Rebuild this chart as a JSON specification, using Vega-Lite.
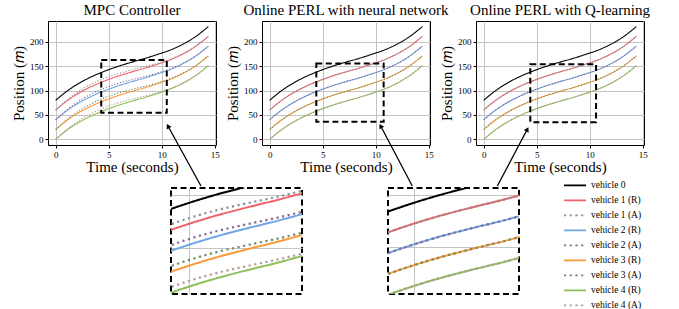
{
"$schema":"https://vega.github.io/schema/vega-lite/v6.json",
"padding":{"left":11,"top":2,"right":0,"bottom":0},
"config":{
 "font":"Liberation Serif",
 "view":{"stroke":"black","strokeWidth":1},
 "axis":{"labelFont":"Liberation Serif","labelFontSize":9,"labelColor":"black","titleFont":"Liberation Serif","titleFontSize":15,"titleFontWeight":"normal","titleColor":"black","tickColor":"black","tickSize":3,"domain":false,"gridColor":"#c4c4c4","gridWidth":1,"labelPadding":2,"titlePadding":3},
 "title":{"font":"Liberation Serif","fontSize":15,"fontWeight":"normal","offset":3,"color":"black"},
 "legend":{"title":null,"symbolType":"stroke","symbolSize":484,"symbolStrokeWidth":1.6,"labelFont":"Liberation Serif","labelFontSize":9.5,"labelColor":"black","clipHeight":12.8,"rowPadding":2,"padding":0,"labelOffset":4}
},
"datasets":{
 "base":[
{"s":"vehicle 0","t":0,"y":80},{"s":"vehicle 0","t":1.2,"y":101},{"s":"vehicle 0","t":2.4,"y":117.4},{"s":"vehicle 0","t":3.6,"y":130.5},{"s":"vehicle 0","t":4.8,"y":141.2},{"s":"vehicle 0","t":6,"y":150.4},{"s":"vehicle 0","t":7.2,"y":158.3},{"s":"vehicle 0","t":8.4,"y":165.7},{"s":"vehicle 0","t":9.6,"y":174},{"s":"vehicle 0","t":10.8,"y":183},{"s":"vehicle 0","t":12,"y":195},{"s":"vehicle 0","t":13.2,"y":210.6},{"s":"vehicle 0","t":14.4,"y":231.1},
{"s":"vehicle 1 (R)","t":0,"y":60},{"s":"vehicle 1 (R)","t":1.2,"y":81},{"s":"vehicle 1 (R)","t":2.4,"y":97.4},{"s":"vehicle 1 (R)","t":3.6,"y":110.5},{"s":"vehicle 1 (R)","t":4.8,"y":121.2},{"s":"vehicle 1 (R)","t":6,"y":130.4},{"s":"vehicle 1 (R)","t":7.2,"y":138.3},{"s":"vehicle 1 (R)","t":8.4,"y":145.7},{"s":"vehicle 1 (R)","t":9.6,"y":154},{"s":"vehicle 1 (R)","t":10.8,"y":163},{"s":"vehicle 1 (R)","t":12,"y":175},{"s":"vehicle 1 (R)","t":13.2,"y":190.6},{"s":"vehicle 1 (R)","t":14.4,"y":211.1},
{"s":"vehicle 2 (R)","t":0,"y":40},{"s":"vehicle 2 (R)","t":1.2,"y":61},{"s":"vehicle 2 (R)","t":2.4,"y":77.4},{"s":"vehicle 2 (R)","t":3.6,"y":90.5},{"s":"vehicle 2 (R)","t":4.8,"y":101.2},{"s":"vehicle 2 (R)","t":6,"y":110.4},{"s":"vehicle 2 (R)","t":7.2,"y":118.3},{"s":"vehicle 2 (R)","t":8.4,"y":125.7},{"s":"vehicle 2 (R)","t":9.6,"y":134},{"s":"vehicle 2 (R)","t":10.8,"y":143},{"s":"vehicle 2 (R)","t":12,"y":155},{"s":"vehicle 2 (R)","t":13.2,"y":170.6},{"s":"vehicle 2 (R)","t":14.4,"y":191.1},
{"s":"vehicle 3 (R)","t":0,"y":20},{"s":"vehicle 3 (R)","t":1.2,"y":41},{"s":"vehicle 3 (R)","t":2.4,"y":57.4},{"s":"vehicle 3 (R)","t":3.6,"y":70.5},{"s":"vehicle 3 (R)","t":4.8,"y":81.2},{"s":"vehicle 3 (R)","t":6,"y":90.4},{"s":"vehicle 3 (R)","t":7.2,"y":98.3},{"s":"vehicle 3 (R)","t":8.4,"y":105.7},{"s":"vehicle 3 (R)","t":9.6,"y":114},{"s":"vehicle 3 (R)","t":10.8,"y":123},{"s":"vehicle 3 (R)","t":12,"y":135},{"s":"vehicle 3 (R)","t":13.2,"y":150.6},{"s":"vehicle 3 (R)","t":14.4,"y":171.1},
{"s":"vehicle 4 (R)","t":0,"y":0},{"s":"vehicle 4 (R)","t":1.2,"y":21},{"s":"vehicle 4 (R)","t":2.4,"y":37.4},{"s":"vehicle 4 (R)","t":3.6,"y":50.5},{"s":"vehicle 4 (R)","t":4.8,"y":61.2},{"s":"vehicle 4 (R)","t":6,"y":70.4},{"s":"vehicle 4 (R)","t":7.2,"y":78.3},{"s":"vehicle 4 (R)","t":8.4,"y":85.7},{"s":"vehicle 4 (R)","t":9.6,"y":94},{"s":"vehicle 4 (R)","t":10.8,"y":103},{"s":"vehicle 4 (R)","t":12,"y":115},{"s":"vehicle 4 (R)","t":13.2,"y":130.6},{"s":"vehicle 4 (R)","t":14.4,"y":151.1}
 ],
 "mpcA":[
{"s":"vehicle 1 (A)","t":0,"y":60},{"s":"vehicle 1 (A)","t":1.2,"y":83},{"s":"vehicle 1 (A)","t":2.4,"y":101.4},{"s":"vehicle 1 (A)","t":3.6,"y":115.5},{"s":"vehicle 1 (A)","t":4.8,"y":126.7},{"s":"vehicle 1 (A)","t":6,"y":135.4},{"s":"vehicle 1 (A)","t":7.2,"y":142.3},{"s":"vehicle 1 (A)","t":8.4,"y":148.7},{"s":"vehicle 1 (A)","t":9.6,"y":156},{"s":"vehicle 1 (A)","t":10.8,"y":164.5},{"s":"vehicle 1 (A)","t":12,"y":176},{"s":"vehicle 1 (A)","t":13.2,"y":191.1},{"s":"vehicle 1 (A)","t":14.4,"y":211.1},
{"s":"vehicle 2 (A)","t":0,"y":40},{"s":"vehicle 2 (A)","t":1.2,"y":63},{"s":"vehicle 2 (A)","t":2.4,"y":81.4},{"s":"vehicle 2 (A)","t":3.6,"y":95.5},{"s":"vehicle 2 (A)","t":4.8,"y":106.7},{"s":"vehicle 2 (A)","t":6,"y":115.4},{"s":"vehicle 2 (A)","t":7.2,"y":122.3},{"s":"vehicle 2 (A)","t":8.4,"y":128.7},{"s":"vehicle 2 (A)","t":9.6,"y":136},{"s":"vehicle 2 (A)","t":10.8,"y":144.5},{"s":"vehicle 2 (A)","t":12,"y":156},{"s":"vehicle 2 (A)","t":13.2,"y":171.1},{"s":"vehicle 2 (A)","t":14.4,"y":191.1},
{"s":"vehicle 3 (A)","t":0,"y":20},{"s":"vehicle 3 (A)","t":1.2,"y":43},{"s":"vehicle 3 (A)","t":2.4,"y":61.4},{"s":"vehicle 3 (A)","t":3.6,"y":75.5},{"s":"vehicle 3 (A)","t":4.8,"y":86.7},{"s":"vehicle 3 (A)","t":6,"y":95.4},{"s":"vehicle 3 (A)","t":7.2,"y":102.3},{"s":"vehicle 3 (A)","t":8.4,"y":108.7},{"s":"vehicle 3 (A)","t":9.6,"y":116},{"s":"vehicle 3 (A)","t":10.8,"y":124.5},{"s":"vehicle 3 (A)","t":12,"y":136},{"s":"vehicle 3 (A)","t":13.2,"y":151.1},{"s":"vehicle 3 (A)","t":14.4,"y":171.1},
{"s":"vehicle 4 (A)","t":0,"y":0},{"s":"vehicle 4 (A)","t":1.2,"y":23},{"s":"vehicle 4 (A)","t":2.4,"y":41.4},{"s":"vehicle 4 (A)","t":3.6,"y":55.5},{"s":"vehicle 4 (A)","t":4.8,"y":66.7},{"s":"vehicle 4 (A)","t":6,"y":75.4},{"s":"vehicle 4 (A)","t":7.2,"y":82.3},{"s":"vehicle 4 (A)","t":8.4,"y":88.7},{"s":"vehicle 4 (A)","t":9.6,"y":96},{"s":"vehicle 4 (A)","t":10.8,"y":104.5},{"s":"vehicle 4 (A)","t":12,"y":116},{"s":"vehicle 4 (A)","t":13.2,"y":131.1},{"s":"vehicle 4 (A)","t":14.4,"y":151.1}
 ],
 "perlA":[
{"s":"vehicle 1 (A)","t":0,"y":60},{"s":"vehicle 1 (A)","t":1.2,"y":81},{"s":"vehicle 1 (A)","t":2.4,"y":97.4},{"s":"vehicle 1 (A)","t":3.6,"y":110.5},{"s":"vehicle 1 (A)","t":4.8,"y":121.2},{"s":"vehicle 1 (A)","t":6,"y":130.4},{"s":"vehicle 1 (A)","t":7.2,"y":138.3},{"s":"vehicle 1 (A)","t":8.4,"y":145.7},{"s":"vehicle 1 (A)","t":9.6,"y":154},{"s":"vehicle 1 (A)","t":10.8,"y":163},{"s":"vehicle 1 (A)","t":12,"y":175},{"s":"vehicle 1 (A)","t":13.2,"y":190.6},{"s":"vehicle 1 (A)","t":14.4,"y":211.1},
{"s":"vehicle 2 (A)","t":0,"y":40},{"s":"vehicle 2 (A)","t":1.2,"y":61},{"s":"vehicle 2 (A)","t":2.4,"y":77.4},{"s":"vehicle 2 (A)","t":3.6,"y":90.5},{"s":"vehicle 2 (A)","t":4.8,"y":101.2},{"s":"vehicle 2 (A)","t":6,"y":110.4},{"s":"vehicle 2 (A)","t":7.2,"y":118.3},{"s":"vehicle 2 (A)","t":8.4,"y":125.7},{"s":"vehicle 2 (A)","t":9.6,"y":134},{"s":"vehicle 2 (A)","t":10.8,"y":143},{"s":"vehicle 2 (A)","t":12,"y":155},{"s":"vehicle 2 (A)","t":13.2,"y":170.6},{"s":"vehicle 2 (A)","t":14.4,"y":191.1},
{"s":"vehicle 3 (A)","t":0,"y":20},{"s":"vehicle 3 (A)","t":1.2,"y":41},{"s":"vehicle 3 (A)","t":2.4,"y":57.4},{"s":"vehicle 3 (A)","t":3.6,"y":70.5},{"s":"vehicle 3 (A)","t":4.8,"y":81.2},{"s":"vehicle 3 (A)","t":6,"y":90.4},{"s":"vehicle 3 (A)","t":7.2,"y":98.3},{"s":"vehicle 3 (A)","t":8.4,"y":105.7},{"s":"vehicle 3 (A)","t":9.6,"y":114},{"s":"vehicle 3 (A)","t":10.8,"y":123},{"s":"vehicle 3 (A)","t":12,"y":135},{"s":"vehicle 3 (A)","t":13.2,"y":150.6},{"s":"vehicle 3 (A)","t":14.4,"y":171.1},
{"s":"vehicle 4 (A)","t":0,"y":0},{"s":"vehicle 4 (A)","t":1.2,"y":21},{"s":"vehicle 4 (A)","t":2.4,"y":37.4},{"s":"vehicle 4 (A)","t":3.6,"y":50.5},{"s":"vehicle 4 (A)","t":4.8,"y":61.2},{"s":"vehicle 4 (A)","t":6,"y":70.4},{"s":"vehicle 4 (A)","t":7.2,"y":78.3},{"s":"vehicle 4 (A)","t":8.4,"y":85.7},{"s":"vehicle 4 (A)","t":9.6,"y":94},{"s":"vehicle 4 (A)","t":10.8,"y":103},{"s":"vehicle 4 (A)","t":12,"y":115},{"s":"vehicle 4 (A)","t":13.2,"y":130.6},{"s":"vehicle 4 (A)","t":14.4,"y":151.1}
 ],
 "boxes":[{"p":1,"t":4.3,"t2":10.48,"y":54.5,"y2":162.5},{"p":2,"t":4.4,"t2":10.75,"y":36,"y2":155.7},{"p":3,"t":4.4,"t2":10.6,"y":35,"y2":154}],
 "arrows":[{"p":1,"t":10.59,"y":27.4,"ta":13.7,"ya":-95.6},{"p":2,"t":10.47,"y":27.4,"ta":13.45,"ya":-95.6},{"p":3,"t":4.12,"y":20.6,"ta":1.29,"ya":-95.6}]
},
"bounds":"full",
"spacing":-11,
"resolve":{"scale":{"x":"independent","y":"independent","color":"independent","strokeDash":"independent"},"legend":{"color":"independent","strokeDash":"independent"}},
"vconcat":[
 {"hconcat":[
  {"width":168,"height":124,"title":"MPC Controller",
   "encoding":{"x":{"field":"t","type":"quantitative","scale":{"domain":[-0.72,15.12],"nice":false,"zero":false},"axis":{"title":"Time (seconds)","values":[0,5,10,15],"titlePadding":0}},
               "y":{"field":"y","type":"quantitative","scale":{"domain":[-11.55,242.55],"nice":false,"zero":false},"axis":{"title":"Position (𝑚)","values":[0,50,100,150,200]}}},
   "layer":[
    {"data":{"name":"base"},"mark":{"type":"line","strokeWidth":1.1,"interpolate":"monotone"},
     "encoding":{"color":{"field":"s","type":"nominal","legend":null,"scale":{"domain":["vehicle 0","vehicle 1 (R)","vehicle 1 (A)","vehicle 2 (R)","vehicle 2 (A)","vehicle 3 (R)","vehicle 3 (A)","vehicle 4 (R)","vehicle 4 (A)"],"range":["#000000","#f0626a","#8f8f8f","#6fa6e4","#876b94","#fb9a3c","#6f8c60","#8cbf58","#b39a95"]}},
                 "strokeDash":{"field":"s","type":"nominal","legend":null,"scale":{"domain":["vehicle 0","vehicle 1 (R)","vehicle 1 (A)","vehicle 2 (R)","vehicle 2 (A)","vehicle 3 (R)","vehicle 3 (A)","vehicle 4 (R)","vehicle 4 (A)"],"range":[[1,0],[1,0],[1.2,1.8],[1,0],[1.2,1.8],[1,0],[1.2,1.8],[1,0],[1.2,1.8]]}}}},
    {"data":{"name":"mpcA"},"mark":{"type":"line","strokeWidth":1.1,"interpolate":"monotone"},
     "encoding":{"color":{"field":"s","type":"nominal","legend":null},"strokeDash":{"field":"s","type":"nominal","legend":null}}},
    {"data":{"name":"boxes"},"transform":[{"filter":"datum.p==1"}],"mark":{"type":"rect","fill":null,"stroke":"black","strokeWidth":2,"strokeDash":[6,3.5]},"encoding":{"x2":{"field":"t2"},"y2":{"field":"y2"}}},
    {"data":{"name":"arrows"},"transform":[{"filter":"datum.p==1"}],"mark":{"type":"rule","color":"black","strokeWidth":1.3},"encoding":{"x2":{"field":"ta"},"y2":{"field":"ya"}}},
    {"data":{"name":"arrows"},"transform":[{"filter":"datum.p==1"}],"mark":{"type":"point","shape":"triangle-up","filled":true,"color":"black","opacity":1,"size":30,"angle":331}}
   ]},
  {"width":168,"height":124,"title":"Online PERL with neural network",
   "encoding":{"x":{"field":"t","type":"quantitative","scale":{"domain":[-0.72,15.12],"nice":false,"zero":false},"axis":{"title":"Time (seconds)","values":[0,5,10,15],"titlePadding":0}},
               "y":{"field":"y","type":"quantitative","scale":{"domain":[-11.55,242.55],"nice":false,"zero":false},"axis":{"title":"Position (𝑚)","values":[0,50,100,150,200]}}},
   "layer":[
    {"data":{"name":"base"},"mark":{"type":"line","strokeWidth":1.1,"interpolate":"monotone"},
     "encoding":{"color":{"field":"s","type":"nominal","legend":null,"scale":{"domain":["vehicle 0","vehicle 1 (R)","vehicle 1 (A)","vehicle 2 (R)","vehicle 2 (A)","vehicle 3 (R)","vehicle 3 (A)","vehicle 4 (R)","vehicle 4 (A)"],"range":["#000000","#f0626a","#8f8f8f","#6fa6e4","#876b94","#fb9a3c","#6f8c60","#8cbf58","#b39a95"]}},
                 "strokeDash":{"field":"s","type":"nominal","legend":null,"scale":{"domain":["vehicle 0","vehicle 1 (R)","vehicle 1 (A)","vehicle 2 (R)","vehicle 2 (A)","vehicle 3 (R)","vehicle 3 (A)","vehicle 4 (R)","vehicle 4 (A)"],"range":[[1,0],[1,0],[1.2,1.8],[1,0],[1.2,1.8],[1,0],[1.2,1.8],[1,0],[1.2,1.8]]}}}},
    {"data":{"name":"perlA"},"mark":{"type":"line","strokeWidth":1.1,"interpolate":"monotone"},
     "encoding":{"color":{"field":"s","type":"nominal","legend":null},"strokeDash":{"field":"s","type":"nominal","legend":null}}},
    {"data":{"name":"boxes"},"transform":[{"filter":"datum.p==2"}],"mark":{"type":"rect","fill":null,"stroke":"black","strokeWidth":2,"strokeDash":[6,3.5]},"encoding":{"x2":{"field":"t2"},"y2":{"field":"y2"}}},
    {"data":{"name":"arrows"},"transform":[{"filter":"datum.p==2"}],"mark":{"type":"rule","color":"black","strokeWidth":1.3},"encoding":{"x2":{"field":"ta"},"y2":{"field":"ya"}}},
    {"data":{"name":"arrows"},"transform":[{"filter":"datum.p==2"}],"mark":{"type":"point","shape":"triangle-up","filled":true,"color":"black","opacity":1,"size":30,"angle":332}}
   ]},
  {"width":168,"height":124,"title":"Online PERL with Q-learning",
   "encoding":{"x":{"field":"t","type":"quantitative","scale":{"domain":[-0.72,15.12],"nice":false,"zero":false},"axis":{"title":"Time (seconds)","values":[0,5,10,15],"titlePadding":0}},
               "y":{"field":"y","type":"quantitative","scale":{"domain":[-11.55,242.55],"nice":false,"zero":false},"axis":{"title":"Position (𝑚)","values":[0,50,100,150,200]}}},
   "layer":[
    {"data":{"name":"base"},"mark":{"type":"line","strokeWidth":1.1,"interpolate":"monotone"},
     "encoding":{"color":{"field":"s","type":"nominal","legend":null,"scale":{"domain":["vehicle 0","vehicle 1 (R)","vehicle 1 (A)","vehicle 2 (R)","vehicle 2 (A)","vehicle 3 (R)","vehicle 3 (A)","vehicle 4 (R)","vehicle 4 (A)"],"range":["#000000","#f0626a","#8f8f8f","#6fa6e4","#876b94","#fb9a3c","#6f8c60","#8cbf58","#b39a95"]}},
                 "strokeDash":{"field":"s","type":"nominal","legend":null,"scale":{"domain":["vehicle 0","vehicle 1 (R)","vehicle 1 (A)","vehicle 2 (R)","vehicle 2 (A)","vehicle 3 (R)","vehicle 3 (A)","vehicle 4 (R)","vehicle 4 (A)"],"range":[[1,0],[1,0],[1.2,1.8],[1,0],[1.2,1.8],[1,0],[1.2,1.8],[1,0],[1.2,1.8]]}}}},
    {"data":{"name":"perlA"},"mark":{"type":"line","strokeWidth":1.1,"interpolate":"monotone"},
     "encoding":{"color":{"field":"s","type":"nominal","legend":null},"strokeDash":{"field":"s","type":"nominal","legend":null}}},
    {"data":{"name":"boxes"},"transform":[{"filter":"datum.p==3"}],"mark":{"type":"rect","fill":null,"stroke":"black","strokeWidth":2,"strokeDash":[6,3.5]},"encoding":{"x2":{"field":"t2"},"y2":{"field":"y2"}}},
    {"data":{"name":"arrows"},"transform":[{"filter":"datum.p==3"}],"mark":{"type":"rule","color":"black","strokeWidth":1.3},"encoding":{"x2":{"field":"ta"},"y2":{"field":"ya"}}},
    {"data":{"name":"arrows"},"transform":[{"filter":"datum.p==3"}],"mark":{"type":"point","shape":"triangle-up","filled":true,"color":"black","opacity":1,"size":30,"angle":28}}
   ]}
 ],"spacing":46,"bounds":"flush",
 "resolve":{"scale":{"x":"independent","y":"independent","color":"independent","strokeDash":"independent"},"legend":{"color":"independent","strokeDash":"independent"}}},
 {"hconcat":[
  {"width":37,"height":106,"view":{"stroke":null},"data":{"values":[{"y":0}]},"mark":{"type":"point","opacity":0},
   "encoding":{"y":{"field":"y","type":"quantitative","scale":{"domain":[-11.55,242.55],"nice":false,"zero":false},"axis":{"title":"Position (𝑚)","values":[0,50,100,150,200],"labelColor":"transparent","titleColor":"transparent","tickColor":"transparent","grid":false}}}},
  {"width":131,"height":106,"view":{"stroke":"black","strokeWidth":2,"strokeDash":[6,3.5]},
   "encoding":{"x":{"field":"t","type":"quantitative","scale":{"domain":[4.3,9.33],"nice":false,"zero":false},"axis":{"title":null,"labels":false,"ticks":false,"values":[5]}},
               "y":{"field":"y","type":"quantitative","scale":{"domain":[55.7,157],"nice":false,"zero":false},"axis":{"title":null,"labels":false,"ticks":false,"values":[100,150]}}},
   "layer":[
    {"data":{"name":"base"},"mark":{"type":"line","strokeWidth":2,"interpolate":"monotone","clip":true},
     "encoding":{"color":{"field":"s","type":"nominal","legend":null,"scale":{"domain":["vehicle 0","vehicle 1 (R)","vehicle 1 (A)","vehicle 2 (R)","vehicle 2 (A)","vehicle 3 (R)","vehicle 3 (A)","vehicle 4 (R)","vehicle 4 (A)"],"range":["#000000","#f0626a","#8f8f8f","#6fa6e4","#876b94","#fb9a3c","#6f8c60","#8cbf58","#b39a95"]}},
                 "strokeDash":{"field":"s","type":"nominal","legend":null,"scale":{"domain":["vehicle 0","vehicle 1 (R)","vehicle 1 (A)","vehicle 2 (R)","vehicle 2 (A)","vehicle 3 (R)","vehicle 3 (A)","vehicle 4 (R)","vehicle 4 (A)"],"range":[[1,0],[1,0],[2.2,3.5],[1,0],[2.2,3.5],[1,0],[2.2,3.5],[1,0],[2.2,3.5]]}}}},
    {"data":{"name":"mpcA"},"mark":{"type":"line","strokeWidth":2.2,"interpolate":"monotone","clip":true},
     "encoding":{"color":{"field":"s","type":"nominal","legend":null},"strokeDash":{"field":"s","type":"nominal","legend":null}}}
   ]},
  {"width":131,"height":106,"view":{"stroke":"black","strokeWidth":2,"strokeDash":[6,3.5]},
   "encoding":{"x":{"field":"t","type":"quantitative","scale":{"domain":[4.0,9.0],"nice":false,"zero":false},"axis":{"title":null,"labels":false,"ticks":false,"values":[5]}},
               "y":{"field":"y","type":"quantitative","scale":{"domain":[55,157],"nice":false,"zero":false},"axis":{"title":null,"labels":false,"ticks":false,"values":[100,150]}}},
   "layer":[
    {"data":{"name":"base"},"mark":{"type":"line","strokeWidth":2,"interpolate":"monotone","clip":true},
     "encoding":{"color":{"field":"s","type":"nominal","legend":{"orient":"none","legendX":175,"legendY":-9},"scale":{"domain":["vehicle 0","vehicle 1 (R)","vehicle 1 (A)","vehicle 2 (R)","vehicle 2 (A)","vehicle 3 (R)","vehicle 3 (A)","vehicle 4 (R)","vehicle 4 (A)"],"range":["#000000","#f0626a","#8f8f8f","#6fa6e4","#876b94","#fb9a3c","#6f8c60","#8cbf58","#b39a95"]}},
                 "strokeDash":{"field":"s","type":"nominal","legend":{"orient":"none","legendX":175,"legendY":-9},"scale":{"domain":["vehicle 0","vehicle 1 (R)","vehicle 1 (A)","vehicle 2 (R)","vehicle 2 (A)","vehicle 3 (R)","vehicle 3 (A)","vehicle 4 (R)","vehicle 4 (A)"],"range":[[1,0],[1,0],[2.2,3.5],[1,0],[2.2,3.5],[1,0],[2.2,3.5],[1,0],[2.2,3.5]]}}}},
    {"data":{"name":"perlA"},"mark":{"type":"line","strokeWidth":2.2,"interpolate":"monotone","clip":true},
     "encoding":{"color":{"field":"s","type":"nominal"},"strokeDash":{"field":"s","type":"nominal"}}}
   ]}
 ],"spacing":86,"bounds":"flush",
 "resolve":{"scale":{"x":"independent","y":"independent","color":"independent","strokeDash":"independent"},"legend":{"color":"independent","strokeDash":"independent"}}}
]
}
